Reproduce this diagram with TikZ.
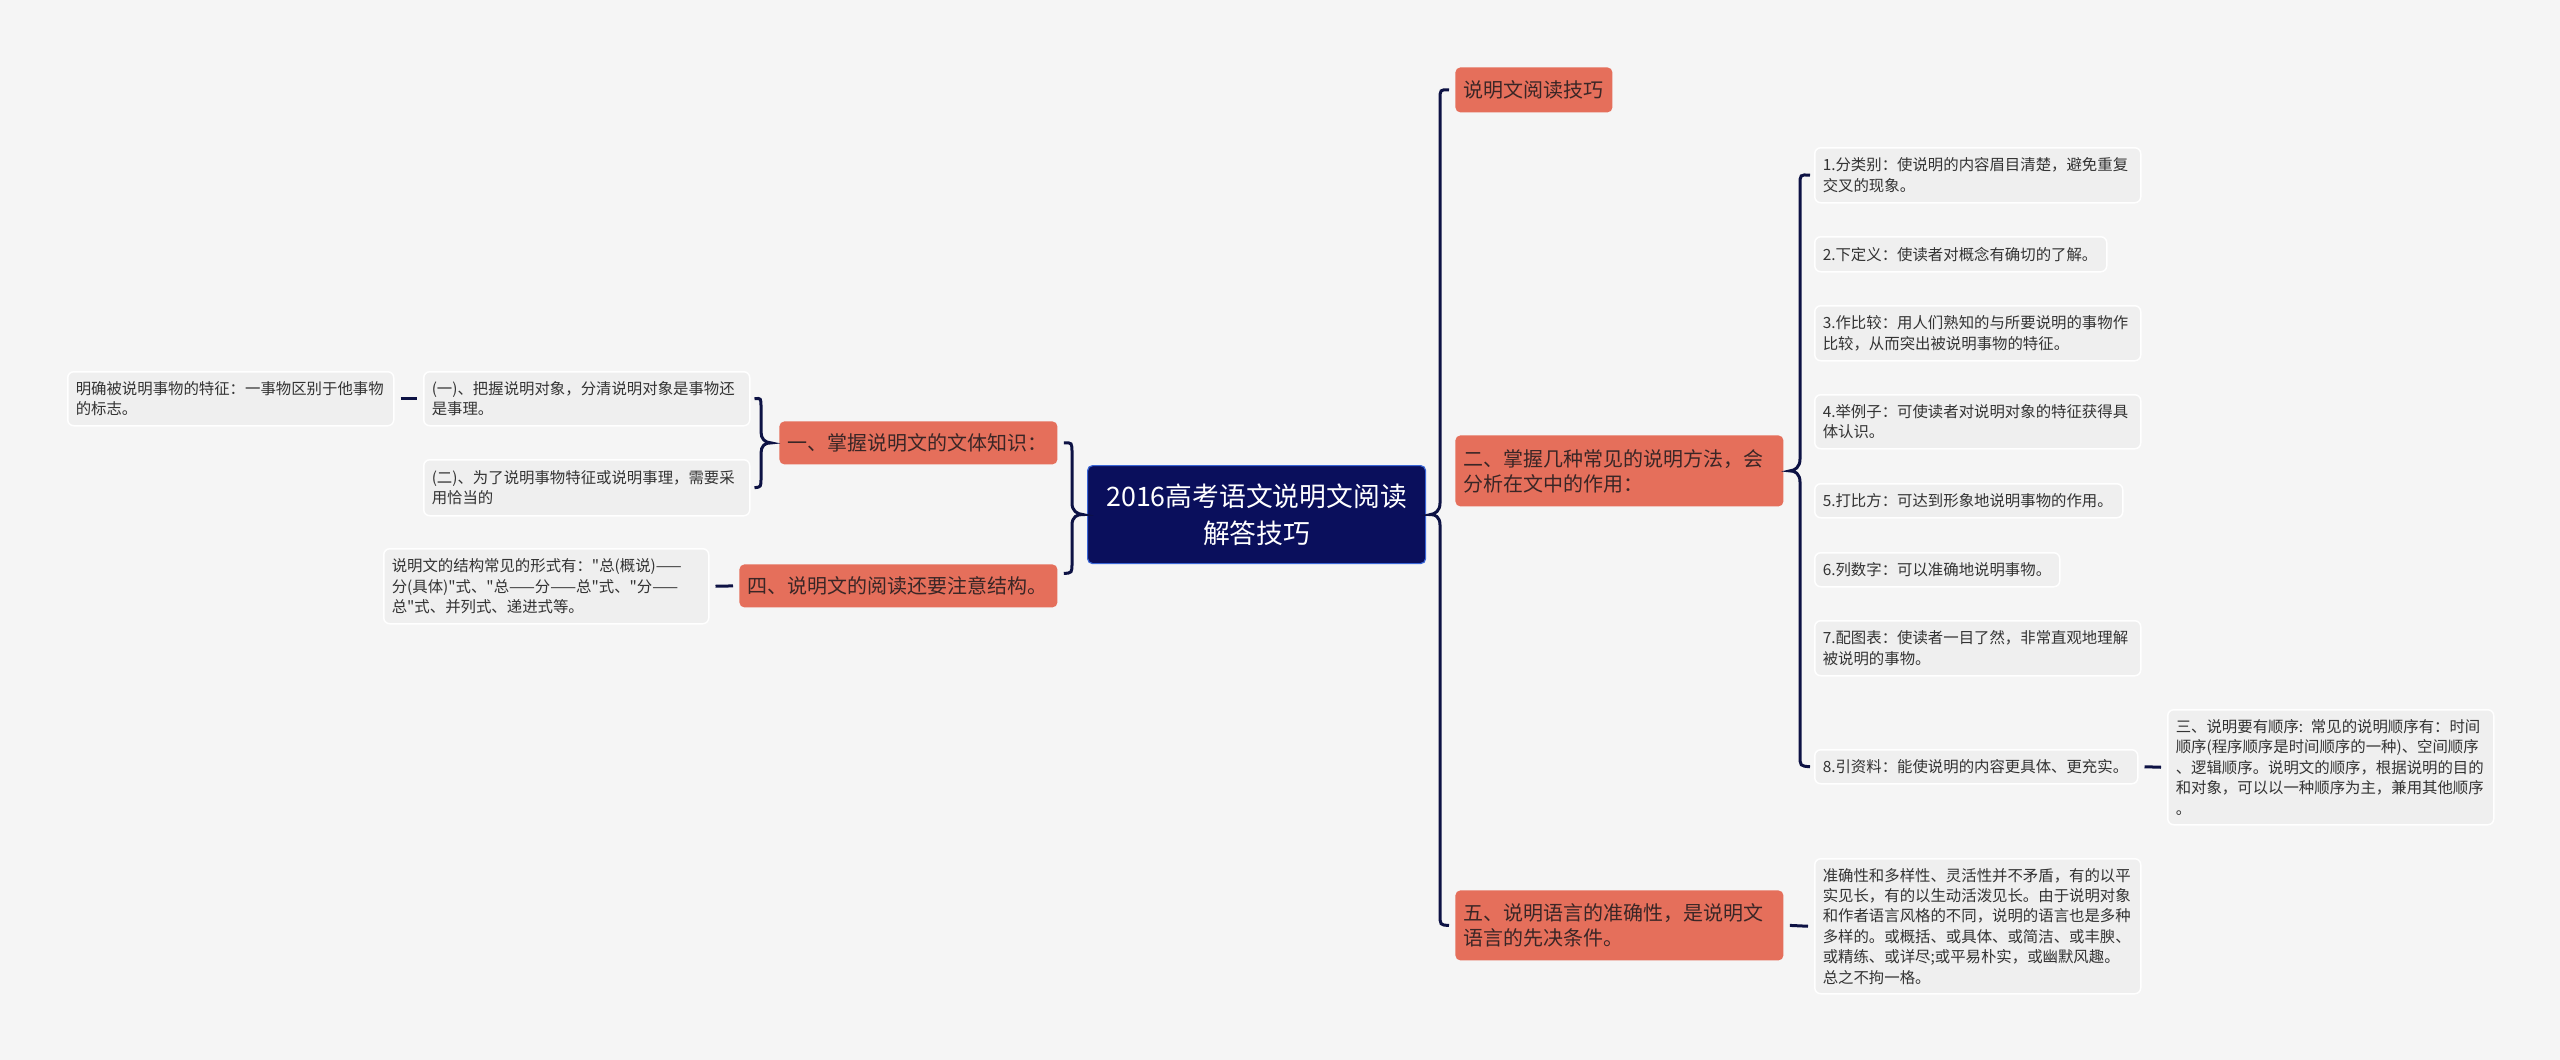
\documentclass[tikz,border=0pt]{standalone}
\usepackage{fontspec}
\newfontfamily\cjk{Noto Sans CJK SC}
\usetikzlibrary{calc}
\definecolor{bgcol}{HTML}{F5F5F5}
\definecolor{navy}{HTML}{0A0F5C}
\definecolor{navyedge}{HTML}{3A66D6}
\definecolor{conncol}{HTML}{0D1244}
\definecolor{orangefill}{HTML}{E56F5B}
\definecolor{leaffill}{HTML}{EFEFEF}
\definecolor{leaftext}{HTML}{333333}
\definecolor{orangetext}{HTML}{3A2626}
\tikzset{
  conn/.style={draw=conncol, line width=1.5pt},
  rootbox/.style={rectangle, rounded corners=2.5pt, fill=navy, draw=navyedge, line width=0.6pt,
    text=white, align=center, inner xsep=2pt, inner ysep=0pt, anchor=north west,
    font=\cjk\fontsize{13.4}{18.3}\selectfont},
  mainbox/.style={rectangle, rounded corners=2.5pt, fill=orangefill, draw=none,
    text=orangetext, align=left, inner xsep=4pt, inner ysep=0pt, anchor=north west,
    font=\cjk\fontsize{10}{12.5}\selectfont},
  leafbox/.style={rectangle, rounded corners=3pt, fill=leaffill, draw=white, line width=0.75pt,
    text=leaftext, align=left, inner xsep=4pt, inner ysep=0pt, anchor=north west,
    font=\cjk\fontsize{7.7}{10.2}\selectfont},
}
\begin{document}
\begin{tikzpicture}[x=0.5pt,y=-0.5pt]
\useasboundingbox (0,0) rectangle (2560,1060);
\fill[bgcol] (0,0) rectangle (2560,1060);

% central
\node[rootbox, text width=165pt, minimum height=49pt] (C) at (1087,465) {2016高考语文说明文阅读\\解答技巧};

% left main
\node[mainbox, text width=131pt, minimum height=21.5pt] (n1) at (779,421) {一、掌握说明文的文体知识：};
\node[mainbox, text width=151pt, minimum height=21.5pt] (n4) at (739,564) {四、说明文的阅读还要注意结构。};

% left leaves
\node[leafbox, text width=155pt, minimum height=27pt] (s1) at (423,371) {(一)、把握说明对象，分清说明对象是事物还\\是事理。};
\node[leafbox, text width=155pt, minimum height=28pt] (s2) at (423,459) {(二)、为了说明事物特征或说明事理，需要采\\用恰当的};
\node[leafbox, text width=155pt, minimum height=27pt] (L1) at (67,371) {明确被说明事物的特征：一事物区别于他事物\\的标志。};
\node[leafbox, text width=154.5pt, minimum height=37.5pt] (st) at (383,548) {说明文的结构常见的形式有："总(概说)——\\分(具体)"式、"总——分——总"式、"分——\\总"式、并列式、递进式等。};

% right main
\node[mainbox, text width=70.5pt, minimum height=22.5pt] (r0) at (1455,67) {说明文阅读技巧};
\node[mainbox, text width=156pt, minimum height=35.5pt] (r2) at (1455,435) {二、掌握几种常见的说明方法，会\\分析在文中的作用：};
\node[mainbox, text width=156pt, minimum height=35pt] (r5) at (1455,890) {五、说明语言的准确性，是说明文\\语言的先决条件。};

% right leaves
\node[leafbox, text width=155pt, minimum height=27.5pt] (I1) at (1814,147) {1.分类别：使说明的内容眉目清楚，避免重复\\交叉的现象。};
\node[leafbox, text width=138pt, minimum height=17.5pt] (I2) at (1814,236) {2.下定义：使读者对概念有确切的了解。};
\node[leafbox, text width=155pt, minimum height=27.5pt] (I3) at (1814,305) {3.作比较：用人们熟知的与所要说明的事物作\\比较，从而突出被说明事物的特征。};
\node[leafbox, text width=155pt, minimum height=27pt] (I4) at (1814,394) {4.举例子：可使读者对说明对象的特征获得具\\体认识。};
\node[leafbox, text width=146pt, minimum height=17pt] (I5) at (1814,483) {5.打比方：可达到形象地说明事物的作用。};
\node[leafbox, text width=114.5pt, minimum height=17pt] (I6) at (1814,552) {6.列数字：可以准确地说明事物。};
\node[leafbox, text width=155pt, minimum height=27.5pt] (I7) at (1814,620) {7.配图表：使读者一目了然，非常直观地理解\\被说明的事物。};
\node[leafbox, text width=153.5pt, minimum height=17pt] (I8) at (1814,749) {8.引资料：能使说明的内容更具体、更充实。};
\node[leafbox, text width=155pt, minimum height=57.5pt] (T3) at (2167,709) {三、说明要有顺序: 常见的说明顺序有：时间\\顺序(程序顺序是时间顺序的一种)、空间顺序\\、逻辑顺序。说明文的顺序，根据说明的目的\\和对象，可以以一种顺序为主，兼用其他顺序\\。};
\node[leafbox, text width=155pt, minimum height=67.5pt] (T5) at (1814,858) {准确性和多样性、灵活性并不矛盾，有的以平\\实见长，有的以生动活泼见长。由于说明对象\\和作者语言风格的不同，说明的语言也是多种\\多样的。或概括、或具体、或简洁、或丰腴、\\或精练、或详尽;或平易朴实，或幽默风趣。\\总之不拘一格。};

% braces
\draw[conn] ([xshift=-3pt]r0.west) .. controls (1440,89.5) .. (1440,100) -- (1440,503)
  .. controls (1440,511) and (1435,514) .. ([xshift=2pt]C.east)
  .. controls (1435,514) and (1440,517) .. (1440,525) -- (1440,914)
  .. controls (1440,925) .. ([xshift=-3pt]r5.west);
\draw[conn] ([xshift=-2pt]I1.west) .. controls (1800,174.5) .. (1800,185) -- (1800,459)
  .. controls (1800,467) and (1795,470.5) .. ([xshift=3pt]r2.east)
  .. controls (1795,470.5) and (1800,474) .. (1800,482) -- (1800,755)
  .. controls (1800,766) .. ([xshift=-2pt]I8.west);
\draw[conn] ([xshift=3pt]n1.east) .. controls (1072,442.5) .. (1072,453) -- (1072,503)
  .. controls (1072,511) and (1077,514) .. ([xshift=-2pt]C.west)
  .. controls (1077,514) and (1072,517) .. (1072,525) -- (1072,563)
  .. controls (1072,573) .. ([xshift=3pt,yshift=6.25pt]n4.east);
\draw[conn] ([xshift=2pt]s1.east) .. controls (761,398) .. (761,407) -- (761,432)
  .. controls (761,439) and (765,442.5) .. ([xshift=-4pt]n1.west)
  .. controls (765,442.5) and (761,446) .. (761,453) -- (761,478)
  .. controls (761,487) .. ([xshift=2pt]s2.east);

% dashes
\draw[conn] ([xshift=3pt]L1.east) -- ([xshift=-3pt]s1.west);
\draw[conn] ([xshift=3pt]st.east) -- ([xshift=-3pt]n4.west);
\draw[conn] ([xshift=3pt]I8.east) -- ([xshift=-3pt]T3.west);
\draw[conn] ([xshift=3pt]r5.east) -- ([xshift=-3pt]T5.west);
\end{tikzpicture}
\end{document}
